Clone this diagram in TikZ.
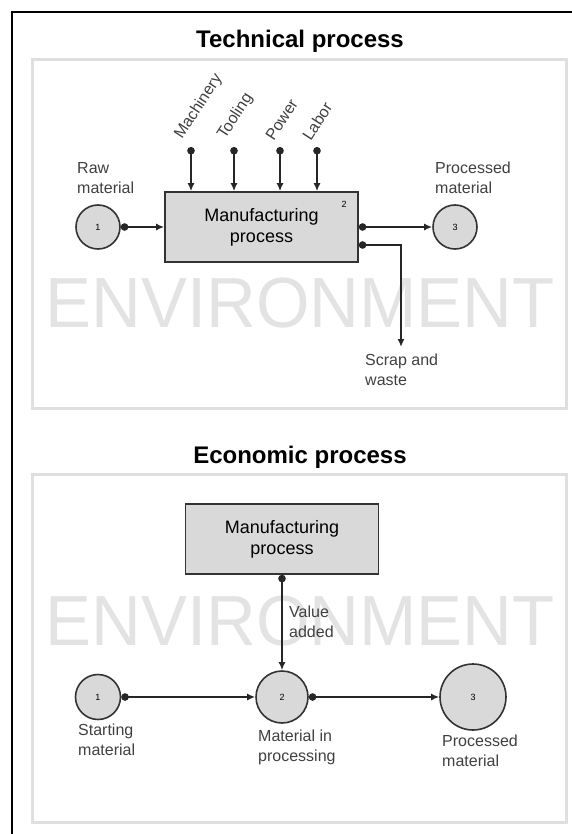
\documentclass[tikz,border=0pt]{standalone}
\usepackage{fontspec}
\setmainfont{Liberation Sans}
\usetikzlibrary{arrows.meta}
\tikzset{
px/.style={x=1pt, y=-1pt}, % one unit is one pixel, y runs down
panel/.style={draw=gray!25, line width=3pt}, % light frame round each process
process/.style={draw=black!80, line width=1.6pt, fill=gray!30, minimum width=193pt, minimum height=70pt, align=center, font=\fontsize{18}{21}\selectfont},
stage/.style={circle, draw=black!80, line width=1.6pt, fill=gray!30, inner sep=0pt, font=\fontsize{9}{10}\selectfont},
lbl/.style={text=black!75, align=left, inner sep=0pt, font=\fontsize{16}{20}\selectfont},
flow/.style={{Circle[length=7.5pt]}-{Latex[length=8pt, width=7pt]}, line width=1.8pt, draw=black!85}, % dot at the start, head at the end
env/.style={text=gray!22, xscale=0.97, font=\fontsize{71}{71}\selectfont},
heading/.style={font=\bfseries\fontsize{24}{28}\selectfont},
}

\begin{document}
\begin{tikzpicture}[px]
        \useasboundingbox (0,0) rectangle (572,834);
        \draw[line width=2.5pt] (12,834) -- (12,12) -- (572,12);
        % technical process
        \node[heading, anchor=base] (tech) at (300,48) {Technical process};
        \draw[panel] (32,60) rectangle (566,408);
        \node[env] (env1) at (300,303) {ENVIRONMENT};
        \node[process] (mfg) at (261.5,227) {Manufacturing\\process};
        \node[font=\fontsize{9}{10}\selectfont] (num) at (344,204) {2};
        \node[stage, minimum size=44pt] (raw) at (98,227) {1};
        \node[stage, minimum size=44pt] (out) at (455,227) {3};
        \node[lbl, anchor=north west] (rawlbl) at (77,162) {Raw\\material};
        \node[lbl, anchor=north west] (outlbl) at (435,162) {Processed\\material};
        \node[lbl, anchor=north west] (scraplbl) at (365,354) {Scrap and\\waste};
        \coordinate (scrap) at (401,347);
        \foreach \name/\x/\txt in {mach/191/Machinery, tool/234/Tooling, power/280/Power, labor/317/Labor} {
                \coordinate (\name) at (\x,147);
                \node[lbl, rotate=57, anchor=south west] at ([xshift=-6pt,yshift=5pt]\name) {\txt};
                \draw[flow] (\name) -- (\name |- mfg.north);
        }
        \draw[flow] (raw) -- (mfg);
        \draw[flow] (mfg) -- (out);
        \draw[flow] ([yshift=-18pt]mfg.east) -| (scrap);
        % economic process
        \node[heading, anchor=base] (econ) at (300,463) {Economic process};
        \draw[panel] (32,474) rectangle (566,822);
        \node[env] (env2) at (300,621) {ENVIRONMENT};
        \node[process] (mfg2) at (282,539) {Manufacturing\\process};
        \node[stage, minimum size=45pt] (s1) at (98,697) {1};
        \node[stage, minimum size=52pt] (s2) at (282,697) {2};
        \node[stage, minimum size=66pt] (s3) at (473,697) {3};
        \node[lbl, anchor=north west] (s1lbl) at (78,724) {Starting\\material};
        \node[lbl, anchor=north west] (s2lbl) at (258,730) {Material in\\processing};
        \node[lbl, anchor=north west] (s3lbl) at (442,735) {Processed\\material};
        \node[lbl, anchor=north west] (addlbl) at (289,606) {Value\\added};
        \draw[flow] (mfg2) -- (s2);
        \draw[flow] (s1) -- (s2);
        \draw[flow] (s2) -- (s3);
\end{tikzpicture}
\end{document}
